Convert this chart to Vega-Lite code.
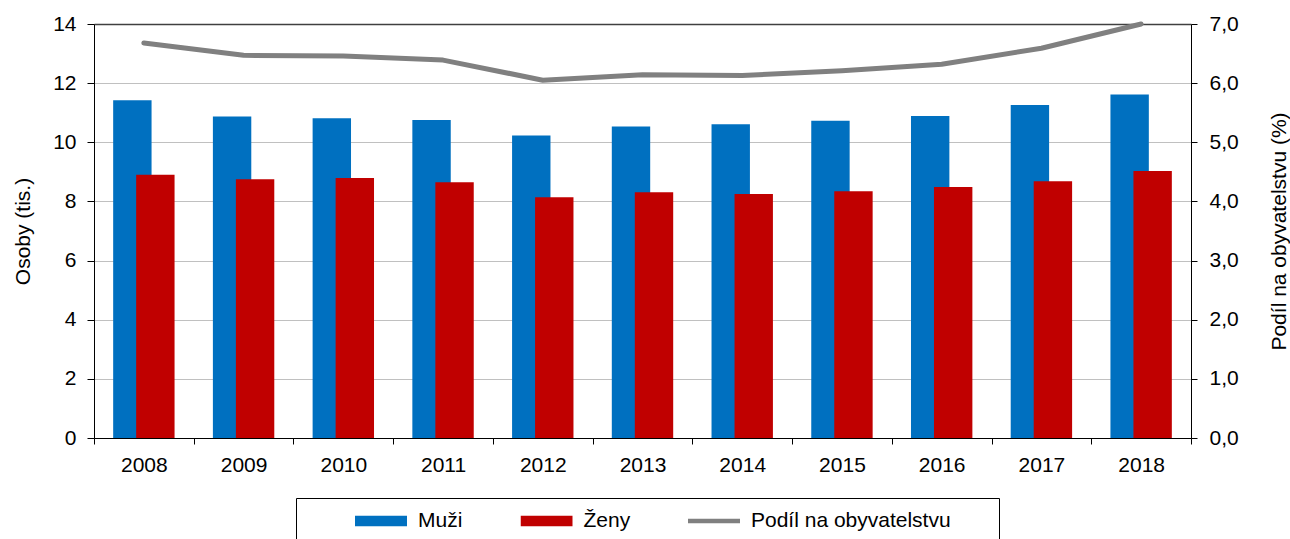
{
  "$schema": "https://vega.github.io/schema/vega-lite/v6.json",
  "width": 1097,
  "height": 414,
  "autosize": {"type": "none"},
  "padding": {"left": 94, "top": 24, "right": 99, "bottom": 101},
  "background": "white",
  "config": {
    "font": "Liberation Sans",
    "view": {"stroke": null},
    "axis": {
      "labelFont": "Liberation Sans",
      "titleFont": "Liberation Sans",
      "labelFontSize": 21,
      "titleFontSize": 21,
      "labelColor": "#000000",
      "titleColor": "#000000",
      "titleFontWeight": "normal",
      "domainColor": "#000000",
      "tickColor": "#000000",
      "domainWidth": 1,
      "tickWidth": 1
    },
    "legend": {
      "labelFont": "Liberation Sans",
      "titleFont": "Liberation Sans"
    }
  },
  "datasets": {
    "bars": [
      {"year": "2008", "series": "Muži", "value": 11.42},
      {"year": "2009", "series": "Muži", "value": 10.87},
      {"year": "2010", "series": "Muži", "value": 10.81},
      {"year": "2011", "series": "Muži", "value": 10.75},
      {"year": "2012", "series": "Muži", "value": 10.23},
      {"year": "2013", "series": "Muži", "value": 10.53},
      {"year": "2014", "series": "Muži", "value": 10.61},
      {"year": "2015", "series": "Muži", "value": 10.73},
      {"year": "2016", "series": "Muži", "value": 10.89},
      {"year": "2017", "series": "Muži", "value": 11.26},
      {"year": "2018", "series": "Muži", "value": 11.62},
      {"year": "2008", "series": "Ženy", "value": 8.90},
      {"year": "2009", "series": "Ženy", "value": 8.75},
      {"year": "2010", "series": "Ženy", "value": 8.79},
      {"year": "2011", "series": "Ženy", "value": 8.65},
      {"year": "2012", "series": "Ženy", "value": 8.14},
      {"year": "2013", "series": "Ženy", "value": 8.31},
      {"year": "2014", "series": "Ženy", "value": 8.25},
      {"year": "2015", "series": "Ženy", "value": 8.34},
      {"year": "2016", "series": "Ženy", "value": 8.49},
      {"year": "2017", "series": "Ženy", "value": 8.68},
      {"year": "2018", "series": "Ženy", "value": 9.03}
    ],
    "share": [
      {"year": "2008", "share": 6.68},
      {"year": "2009", "share": 6.47},
      {"year": "2010", "share": 6.46},
      {"year": "2011", "share": 6.39},
      {"year": "2012", "share": 6.05},
      {"year": "2013", "share": 6.14},
      {"year": "2014", "share": 6.13},
      {"year": "2015", "share": 6.21},
      {"year": "2016", "share": 6.32},
      {"year": "2017", "share": 6.59},
      {"year": "2018", "share": 7.0}
    ]
  },
  "layer": [
    {
      "data": {"name": "bars"},
      "encoding": {
        "x": {
          "field": "year",
          "type": "ordinal",
          "scale": {"type": "band", "paddingInner": 0, "paddingOuter": 0},
          "axis": {
            "title": null,
            "labelAngle": 0,
            "tickBand": "extent",
            "tickSize": 6,
            "labelPadding": 10,
            "grid": false,
            "zindex": 1
          }
        },
        "y": {
          "field": "value",
          "type": "quantitative",
          "scale": {"domain": [0, 14], "nice": false},
          "axis": {
            "title": "Osoby (tis.)",
            "values": [0, 2, 4, 6, 8, 10, 12, 14],
            "grid": true,
            "gridColor": {"condition": {"test": "datum.value === 14", "value": "#404040"}, "value": "#c0c0c0"},
            "gridWidth": {"condition": {"test": "datum.value === 14", "value": 1.5}, "value": 1},
            "tickSize": 7,
            "labelPadding": 11,
            "titlePadding": 19
          }
        },
        "color": {
          "field": "series",
          "type": "nominal",
          "scale": {
            "domain": ["Muži", "Ženy", "Podíl na obyvatelstvu"],
            "range": ["#0070C0", "#C00000", "#808080"]
          },
          "legend": {
            "orient": "none",
            "legendX": 202,
            "legendY": 474,
            "direction": "horizontal",
            "columns": 3,
            "title": "\u00a0",
            "titleOrient": "left",
            "titleFontSize": 21,
            "titlePadding": 46.5,
            "symbolType": "M-1,-0.2H1V0.2H-1Z",
            "symbolSize": 2704,
            "symbolStrokeWidth": 0,
            "clipHeight": 21,
            "labelFontSize": 21,
            "labelColor": "#000000",
            "labelOffset": 11,
            "labelLimit": 400,
            "columnPadding": 57.5,
            "padding": 12.5,
            "strokeColor": "#000000",
            "labelExpr": "datum.label === 'Podíl na obyvatelstvu' ? datum.label + '\u00a0\u00a0\u00a0\u00a0\u00a0\u00a0\u200b' : datum.label",
            "encode": {
              "symbols": {
                "update": {
                  "shape": {"signal": "datum.value === 'Podíl na obyvatelstvu' ? 'M-1,-0.09H1V0.09H-1Z' : 'M-1,-0.2H1V0.2H-1Z'"}
                }
              }
            }
          }
        }
      },
      "layer": [
        {
          "transform": [{"filter": "datum.series === 'Muži'"}],
          "mark": {"type": "bar", "width": {"band": 0.385}, "xOffset": -11.5}
        },
        {
          "transform": [{"filter": "datum.series === 'Ženy'"}],
          "mark": {"type": "bar", "width": {"band": 0.385}, "xOffset": 11.5}
        }
      ]
    },
    {
      "data": {"name": "share"},
      "mark": {"type": "line", "color": "#808080", "strokeWidth": 5, "strokeCap": "round", "strokeJoin": "round"},
      "encoding": {
        "x": {"field": "year", "type": "ordinal"},
        "y": {
          "field": "share",
          "type": "quantitative",
          "scale": {"domain": [0, 7], "nice": false},
          "axis": {
            "orient": "right",
            "title": "Podíl na obyvatelstvu (%)",
            "values": [0, 1, 2, 3, 4, 5, 6, 7],
            "labelExpr": "replace(format(datum.value, '.1f'), '.', ',')",
            "grid": false,
            "tickSize": 6,
            "labelPadding": 12,
            "titleAngle": 270,
            "titlePadding": 51
          }
        }
      }
    }
  ],
  "resolve": {"scale": {"y": "independent"}}
}
